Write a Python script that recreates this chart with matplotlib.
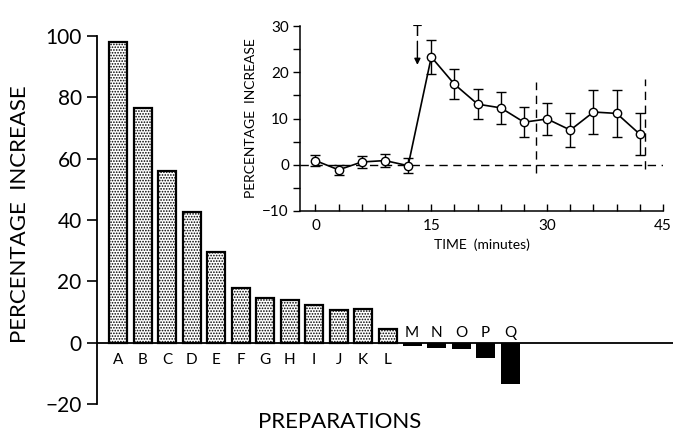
import numpy as np
import matplotlib
matplotlib.use("Agg")
import matplotlib.pyplot as plt

plt.rcParams['font.family'] = ['Lato', 'DejaVu Sans']
plt.rcParams['hatch.linewidth'] = 0.8
plt.rcParams['text.color'] = 'black'

# main bar chart: percentage increase per preparation
preps = list("ABCDEFGHIJKLMNOPQ")
pct = [98, 76.5, 56, 42.5, 29.5, 18, 14.6, 14, 12.3, 10.8, 11.2, 4.7,
       -1.0, -1.5, -1.8, -5.0, -13.3]

# inset: time course
t_min = [0, 3, 6, 9, 12, 15, 18, 21, 24, 27, 30, 33, 36, 39, 42]
t_pct = [0.9, -1.1, 0.6, 0.9, -0.2, 23.3, 17.4, 13.1, 12.3, 9.2, 9.9, 7.5,
         11.4, 11.1, 6.6]
t_err = [1.2, 1.1, 1.2, 1.4, 1.6, 3.6, 3.2, 3.3, 3.5, 3.3, 3.5, 3.7, 4.7,
         5.1, 4.5]
yticks_main = [-20, 0, 20, 40, 60, 80, 100]

fig = plt.figure(figsize=(6.73, 4.38), dpi=100)
ax = fig.add_axes([97/673, 32/438, 576/673, 372/438])

x = np.arange(len(preps))
for xi, v in zip(x, pct):
    if v >= 0:
        ax.bar(xi, v, width=0.74, facecolor='white', edgecolor='black',
               linewidth=1.6, hatch='......')
        ax.text(xi, -5.5, preps[xi], ha='center', va='center', fontsize=11)
    else:
        ax.bar(xi, v, width=0.78, color='black', linewidth=0)
        ax.text(xi, 3.2, preps[xi], ha='center', va='center', fontsize=11)

ax.axhline(0, color='black', lw=1.3)
ax.set_xlim(-0.86, 22.65)
ax.set_ylim(-20.5, 100.5)
for s in ['top', 'right', 'bottom']:
    ax.spines[s].set_visible(False)
ax.spines['left'].set_bounds(-20, 100)
ax.spines['left'].set_linewidth(1.3)
ax.set_xticks([])
ax.set_yticks(yticks_main)
ax.set_yticklabels(['\u221220', '0', '20', '40', '60', '80', '100'],
                   fontsize=15)
ax.tick_params(axis='y', length=7, width=1.2, pad=4)
fig.text(20/673, 1 - 214/438, 'PERCENTAGE  INCREASE', rotation=90,
         ha='center', va='center', fontsize=16)
fig.text(340/673, 1 - 422/438, 'PREPARATIONS', ha='center', va='center',
         fontsize=16)

# inset
ins = fig.add_axes([300/673, 1 - 211/438, 363/673, 185/438])
ins.errorbar(t_min, t_pct, yerr=t_err, color='black', lw=1.2, marker='o',
             ms=6, mfc='white', mec='black', mew=1.0, capsize=3.5,
             elinewidth=1.0, zorder=3)
ins.plot([-2, 45], [0, 0], color='black', lw=1.0, ls=(0, (6, 4)))
ins.plot([28.5, 28.5], [-1.7, 18], color='black', lw=1.0, ls=(0, (6, 4)))
ins.plot([42.7, 42.7], [-1.0, 18.5], color='black', lw=1.0, ls=(0, (6, 4)))
ins.annotate('', xy=(13.2, 21), xytext=(13.2, 27.3),
             arrowprops=dict(arrowstyle='-|>', color='black', lw=1.0,
                             mutation_scale=9))
ins.text(13.2, 28.6, 'T', ha='center', va='center', fontsize=11)
ins.set_xlim(-2, 45)
ins.set_ylim(-10, 30)
ins.patch.set_alpha(0)
for s in ['top', 'right']:
    ins.spines[s].set_visible(False)
for s in ['left', 'bottom']:
    ins.spines[s].set_linewidth(1.1)
ins.set_xticks(np.arange(0, 46, 3), minor=True)
ins.set_xticks([0, 15, 30, 45])
ins.set_yticks([-10, 0, 10, 20, 30])
ins.set_yticks(np.arange(-10, 31, 5), minor=True)
ins.set_yticklabels(['\u221210', '0', '10', '20', '30'], fontsize=11)
ins.set_xticklabels(['0', '15', '30', '45'], fontsize=11)
ins.tick_params(axis='x', which='both', direction='in', length=5, width=1.0,
                pad=6)
ins.tick_params(axis='y', which='both', direction='out', length=5, width=1.0,
                pad=3)
ins.set_xlabel('TIME  (minutes)', fontsize=10, labelpad=4)
ins.set_ylabel('PERCENTAGE  INCREASE', fontsize=10, labelpad=4)

fig.savefig('out.png', dpi=100)
